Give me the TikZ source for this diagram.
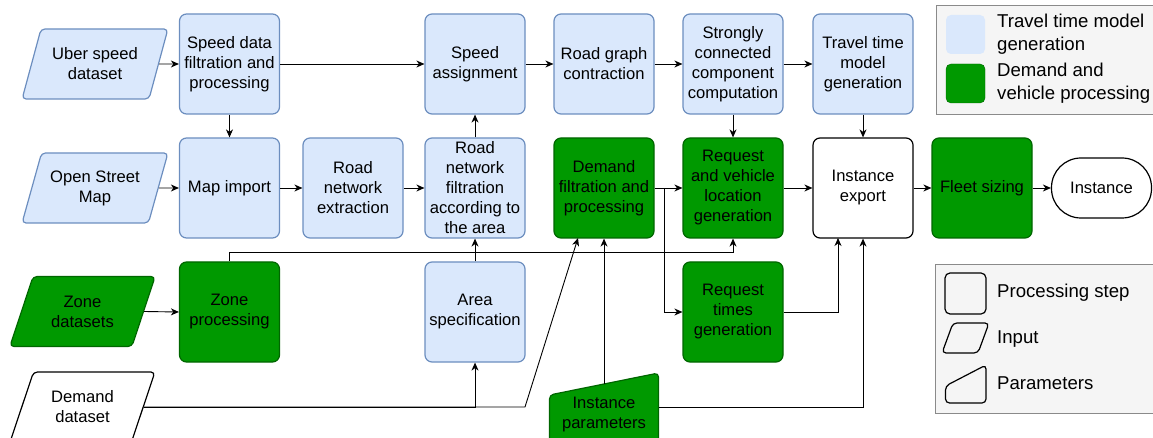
\documentclass[tikz,border=0pt]{standalone}
\usepackage{fontspec}
\setmainfont{Liberation Sans}
\usetikzlibrary{shapes.geometric,arrows.meta}
\definecolor{lightblue}{HTML}{DAE8FC}
\definecolor{blueline}{HTML}{6C8EBF}
\definecolor{darkgreen}{HTML}{009900}
\definecolor{greenline}{HTML}{006600}
\definecolor{legendgray}{HTML}{F5F5F5}
\definecolor{legendline}{HTML}{8A8A8A}

\begin{document}
\begin{tikzpicture}[x=1pt,y=-1pt,
	box/.style={rectangle,rounded corners=7pt,minimum width=100pt,minimum height=100pt,inner sep=0pt,align=center,line width=1.2pt,font=\fontsize{16.6}{20}\selectfont},
	bluebox/.style={box,draw=\BOXLINEONE,fill=\BACKGROUNDONE},
	greenbox/.style={box,draw=\BOXLINETWO,fill=\BACKGROUNDTWO},
	whitebox/.style={box,draw=black,fill=white},
	endnode/.style={box,draw=black,fill=white,minimum height=60pt,rounded corners=29.5pt},
	inbox/.style={trapezium,trapezium left angle=65,trapezium right angle=115,trapezium stretches=true,minimum width=146pt,minimum height=70pt,inner sep=0pt,rounded corners=4pt,align=center,line width=1.2pt,font=\fontsize{16.6}{20}\selectfont},
	legtext/.style={anchor=west,align=left,inner sep=0pt,font=\fontsize{18.6}{23}\selectfont},
	swatch/.style={rectangle,rounded corners=5pt,minimum size=39pt,inner sep=0pt},
	flow/.style={-{Stealth[length=8pt,width=7pt,inset=2.5pt]},line width=0.9pt}]

\def\BACKGROUNDONE{lightblue}
\def\BACKGROUNDTWO{darkgreen}
\def\BOXLINEONE{blueline}
\def\BOXLINETWO{greenline}
	\useasboundingbox (0,0) rectangle (1153,438);

	\draw[fill=legendgray,draw=legendline] (936,5) rectangle (1160,114);
	\node[swatch,fill=\BACKGROUNDONE] (lgone) at (965.5,34.5) {};
	\node[swatch,fill=\BACKGROUNDTWO,draw=\BOXLINETWO] (lgtwo) at (965.5,83.5) {};
	\node[legtext] (lgonetext) at (997,34.5) {Travel time model\\generation};
	\node[legtext] (lgtwotext) at (997,83.5) {Demand and\\vehicle processing};

	\draw[fill=legendgray,draw=legendline] (935,264) rectangle (1160,413);
	\node[swatch,minimum size=41pt,draw=black,line width=1.2pt] (lgstep) at (965.5,293.5) {};
	\draw[line width=1.2pt,rounded corners=4pt] (942,353) -- (953,323) -- (989,323) -- (978,353) -- cycle;
	\draw[line width=1.2pt,rounded corners=4pt] (945.5,403) -- (945.5,386) -- (986,365) -- (986,403) -- cycle;
	\node[legtext] (lgsteptext) at (997,293) {Processing step};
	\node[legtext] (lginputtext) at (997,339) {Input};
	\node[legtext] (lgpartext) at (997,383) {Parameters};

	\node[inbox,draw=\BOXLINEONE,fill=\BACKGROUNDONE] (usd) at (95,64) {Uber speed\\dataset};
	\node[inbox,draw=\BOXLINEONE,fill=\BACKGROUNDONE] (osm) at (95,188) {Open Street\\Map};
	\node[inbox,draw=\BOXLINETWO,fill=\BACKGROUNDTWO] (zds) at (82.5,311.5) {Zone\\datasets};
	\node[inbox,draw=black,fill=white] (dds) at (82.5,407) {Demand\\dataset};

	\draw[line width=1.2pt,rounded corners=4pt,draw=\BOXLINETWO,fill=\BACKGROUNDTWO] (549.5,460) -- (549.5,395) -- (658.5,373) -- (658.5,460) -- cycle;
	\node[align=center,inner sep=0pt,font=\fontsize{16.6}{20}\selectfont] (ipa) at (604,414.5) {Instance\\parameters};
	\coordinate (ipatop) at (604,384);
	\coordinate (iparight) at (658.5,407);

	\node[bluebox] (sdf) at (229.5,64) {Speed data\\filtration and\\processing};
	\node[bluebox] (spa) at (475,64) {Speed\\assignment};
	\node[bluebox] (rgc) at (604,64) {Road graph\\contraction};
	\node[bluebox] (scc) at (733,64) {Strongly\\connected\\component\\computation};
	\node[bluebox] (ttm) at (863,64) {Travel time\\model\\generation};

	\node[bluebox] (mim) at (229.5,188) {Map import};
	\node[bluebox] (rne) at (353,188) {Road\\network\\extraction};
	\node[bluebox] (rnf) at (475,188) {Road\\network\\filtration\\according to\\the area};
	\node[greenbox] (dfp) at (604,188) {Demand\\filtration and\\processing};
	\node[greenbox] (rvl) at (733,188) {Request\\and vehicle\\location\\generation};
	\node[whitebox] (iex) at (863,188) {Instance\\export};
	\node[greenbox] (fls) at (982,188) {Fleet sizing};
	\node[endnode] (ins) at (1101.5,188) {Instance};

	\node[greenbox] (zpr) at (229.5,312) {Zone\\processing};
	\node[bluebox] (asp) at (475,312) {Area\\specification};
	\node[greenbox] (rtg) at (733,312) {Request\\times\\generation};

	\coordinate (dfpin) at (578,238);
	\coordinate (ddbend) at (525,407);
	\coordinate (iexin) at (838,238);

	\draw[flow] (usd.east) -- (sdf.west);
	\draw[flow] (sdf.south) -- (mim.north);
	\draw[flow] (sdf.east) -- (spa.west);
	\draw[flow] (spa.east) -- (rgc.west);
	\draw[flow] (rgc.east) -- (scc.west);
	\draw[flow] (scc.east) -- (ttm.west);
	\draw[flow] (scc.south) -- (rvl.north);
	\draw[flow] (ttm.south) -- (iex.north);
	\draw[flow] (osm.east) -- (mim.west);
	\draw[flow] (mim.east) -- (rne.west);
	\draw[flow] (rne.east) -- (rnf.west);
	\draw[flow] (rnf.north) -- (spa.south);
	\draw[flow] (dfp.east) -- (rvl.west);
	\draw[flow] (dfp.east) -- ++(10,0) |- (rtg.west);
	\draw[flow] (rvl.east) -- (iex.west);
	\draw[flow] (iex.east) -- (fls.west);
	\draw[flow] (fls.east) -- (ins.west);
	\draw[flow] (zds.east) -- (zpr.west);
	\draw[flow] (zpr.north) -- ++(0,-9) -| (rvl.south);
	\draw[flow] (asp.north) -- (rnf.south);
	\draw[flow] (dds.east) -| (asp.south);
	\draw[flow] (dds.east) -- (ddbend) -- (dfpin);
	\draw[flow] (ipatop) -- (dfp.south);
	\draw[flow] (iparight) -| (iex.south);
	\draw[flow] (rtg.east) -| (iexin);

\end{tikzpicture}
\end{document}
